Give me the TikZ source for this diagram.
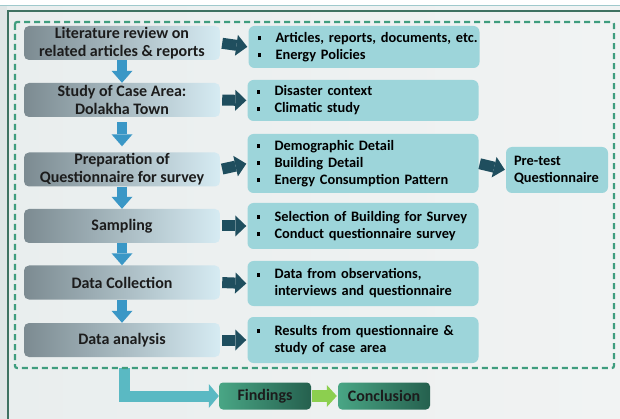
\documentclass[tikz,border=0pt]{standalone}
\usepackage{fontspec}
\setmainfont{Carlito}
\usetikzlibrary{arrows.meta}

\definecolor{bgmain}{HTML}{E9EEEE}
\definecolor{bgright}{HTML}{F1F3F3}
\definecolor{bgedge}{HTML}{E0E6E6}
\definecolor{frameline}{HTML}{3F7262}
\definecolor{topline}{HTML}{9FC9CC}
\definecolor{dashgreen}{HTML}{3F9D7E}
\definecolor{stageL}{HTML}{7C8B91}
\definecolor{stageR}{HTML}{D6EBF3}
\definecolor{tealbox}{HTML}{9DD5DA}
\definecolor{ink}{HTML}{1C1C1C}
\definecolor{arrblue}{HTML}{3A97C6}
\definecolor{arrnavy}{HTML}{1F4E5E}
\definecolor{arrlteal}{HTML}{5AB9C3}
\definecolor{arrgreen}{HTML}{8CCF4F}
\definecolor{resL}{HTML}{49A685}
\definecolor{resR}{HTML}{25604E}

% square bullet (with the box's left inset) followed by its text column
\newcommand\sqbul{\makebox[27pt][l]{\hspace*{9pt}\rule[2.2pt]{3.8pt}{3.8pt}}}
\newcommand\hang{\hspace*{27pt}}

\begin{document}
\begin{tikzpicture}[x=1pt,y=-1pt,
  stagebox/.style={rounded corners=5pt, minimum width=196pt, minimum height=34pt,
    inner sep=0pt, align=center, text=ink,
    font=\bfseries\fontsize{16}{18}\selectfont,
    left color=stageL, right color=stageR},
  detailbox/.style={rounded corners=6pt, fill=tealbox, inner sep=0pt,
    text width=231pt, align=left, text=black,
    font=\bfseries\fontsize{14.4}{17}\selectfont},
  resultbox/.style={rounded corners=4pt, minimum width=92pt, minimum height=27pt,
    inner sep=0pt, align=center, text=ink,
    font=\bfseries\fontsize{16}{18}\selectfont,
    left color=resL, right color=resR},
  downarrow/.style={draw=arrblue, line width=10pt,
    -{Triangle[length=12pt,width=21pt,line width=0pt]}},
  sidearrow/.style={draw=arrnavy, line width=11pt,
    -{Triangle[length=11pt,width=21pt,line width=0pt]}},
  outarrow/.style={draw=arrlteal, line width=11pt, line join=miter,
    -{Triangle[length=10pt,width=24pt,line width=0pt]}},
  nextarrow/.style={draw=arrgreen, line width=12pt,
    -{Triangle[length=10pt,width=22pt,line width=0pt]}},
  framedash/.style={draw=dashgreen, line width=2.2pt, dash pattern=on 6pt off 4pt}
]
\useasboundingbox (0,0) rectangle (620,419);

% page background and outer frame
\shade[left color=bgmain, right color=bgright] (0,0) rectangle (620,419);
\fill[bgedge] (0,0) rectangle (7,419);
\fill[white] (0,0) rectangle (620,5);
\draw[topline, line width=1pt] (0,5.5) -- (620,5.5);
\draw[frameline, line width=2pt] (7,11) -- (620,11);
\draw[frameline, line width=2.2pt] (8,10) -- (8,419);

% process stages
\node[stagebox] (b1) at (122,43)    {Literature review on\\related articles \& reports};
\node[stagebox] (b2) at (122,100)   {Study of Case Area:\\Dolakha Town};
\node[stagebox] (b3) at (122,169.5) {Preparation of\\Questionnaire for survey};
\node[stagebox] (b4) at (122,226)   {Sampling};
\node[stagebox] (b5) at (122,282.5) {Data Collection};
\node[stagebox] (b6) at (122,340)   {Data analysis};

% details of each stage
\node[detailbox, minimum height=42pt] (d1) at (364,47)
  {\sqbul Articles, reports, documents, etc.\\\sqbul Energy Policies};
\node[detailbox, minimum height=41pt] (d2) at (363,100.5)
  {\sqbul Disaster context\\\sqbul Climatic study};
\node[detailbox, minimum height=59pt] (d3) at (363,163.5)
  {\sqbul Demographic Detail\\\sqbul Building Detail\\\sqbul Energy Consumption Pattern};
\node[detailbox, minimum height=46pt] (d4) at (363,226)
  {\sqbul Selection of Building for Survey\\\sqbul Conduct questionnaire survey};
\node[detailbox, minimum height=45pt] (d5) at (363,283.5)
  {\sqbul Data from observations,\\\hang interviews and questionnaire};
\node[detailbox, minimum height=46pt] (d6) at (363,340)
  {\sqbul Results from questionnaire \&\\\hang study of case area};

\node[rounded corners=6pt, fill=tealbox, inner xsep=8pt, inner ysep=0pt,
  text width=86pt, minimum height=46pt, align=left, text=black,
  font=\bfseries\fontsize{14.4}{17}\selectfont] (pt) at (557,170)
  {Pre-test\\Questionnaire};

% outcomes
\node[resultbox] (find) at (265,396) {Findings};
\node[resultbox] (conc) at (384,396) {Conclusion};

% flow between stages
\draw[downarrow] (b1.south) -- (b2.north);
\draw[downarrow, shorten <=5pt, shorten >=6pt] (b2.south) -- (b3.north);
\draw[downarrow] (b3.south) -- (b4.north);
\draw[downarrow] (b4.south) -- (b5.north);
\draw[downarrow] (b5.south) -- (b6.north);

% stage to detail
\foreach \i in {1,...,6}
  \draw[sidearrow, shorten <=2pt, shorten >=1pt] (b\i.east) -- (d\i.west);
\draw[sidearrow, shorten <=1pt, shorten >=1pt] (d3.east) -- (pt.west);

% from the study frame to the outcomes
\coordinate (fout) at (124.5,368);
\draw[outarrow] (fout) |- (find.west);
\draw[nextarrow, shorten <=1pt, shorten >=1pt] (find.east) -- (conc.west);

% dashed frame around the study
\draw[framedash, rounded corners=2pt] (15,22) rectangle (614,368);
\end{tikzpicture}
\end{document}
